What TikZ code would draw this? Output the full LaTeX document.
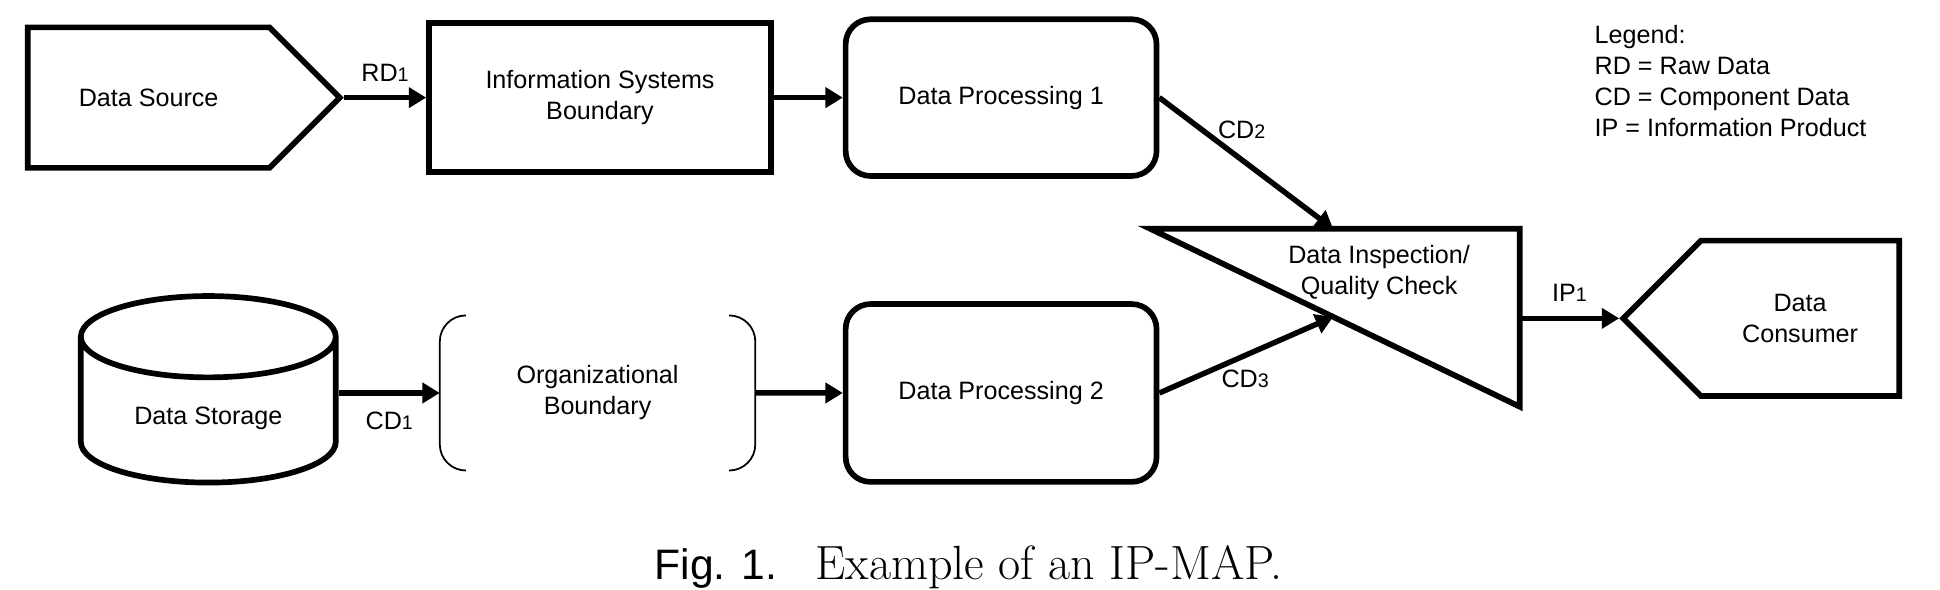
\documentclass[tikz,border=0pt]{standalone}
\usepackage{fontspec}
\setsansfont{Liberation Sans}
\usetikzlibrary{shapes.geometric, shapes.symbols, positioning, calc, arrows.meta}
\tikzstyle{block} = [draw, line width=2.6pt, minimum width=5cm,
        minimum height=2.5cm]
\tikzstyle{proc} = [block, rounded corners=0.4cm]
\tikzstyle{link} = [->, line width=2.5pt]
\tikzset{ends/.style={draw, line width=2.6pt, shape=signal, signal to=#1,
    signal pointer angle=90
    }
}

\begin{document}
\begin{tikzpicture}[>={Triangle[length=0.28cm,width=0.32cm]},
    every node/.style={align=center, font=\sffamily\fontsize{11.5}{14.2}\selectfont}]
    \useasboundingbox (0,0) rectangle (31.2,-9.48);

    \node [ends=east, minimum width=5.02cm, minimum height=2.26cm] (src) at (2.39,-1.57) {Data Source};
    \node [block, right of=src, node distance=7.26cm, minimum width=5.5cm, minimum height=2.4cm] (isb) {Information Systems\\Boundary};
    \node [proc, right of=isb, node distance=6.45cm, minimum height=2.52cm] (dp1) {Data Processing 1};

    \node [draw, line width=2.6pt, cylinder, shape border rotate=90, shape aspect=0.5,
        minimum width=4.1cm, minimum height=3cm] (store) at (3.35,-6.72) {Data Storage};
    \node [minimum width=5.06cm, minimum height=2.48cm] (org) at (9.61,-6.32) {Organizational\\Boundary};
    \node [proc, below of=dp1, node distance=4.75cm, minimum height=2.86cm] (dp2) {Data Processing 2};

    % inspection / quality check
    \coordinate (qa) at (18.5,-3.68);
    \coordinate (qb) at (24.44,-3.68);
    \coordinate (qc) at (24.44,-6.54);
    \draw[line width=2.6pt] (qa) -- (qb) -- (qc) -- cycle;
    \node (check) at (22.18,-4.39) {Data Inspection/\\Quality Check};
    \coordinate (cin) at ($(qa)!0.495!(qb)$);
    \coordinate (hin) at ($(qa)!0.495!(qc)$);

    \node [ends=west, minimum width=4.44cm, minimum height=2.5cm] (dc) at (28.95,-5.12) {Data\\Consumer};

    \node [anchor=north west, inner sep=0pt, align=left] (legend) at (25.64,-0.4)
        {Legend:\\RD = Raw Data\\CD = Component Data\\IP = Information Product};

    % brackets
    \draw[line width=0.8pt, rounded corners=0.42cm] ($(org.north west)+(0.42,0)$) -- (org.north west)
        -- (org.south west) -- ($(org.south west)+(0.42,0)$);
    \draw[line width=0.8pt, rounded corners=0.42cm] ($(org.north east)+(-0.42,0)$) -- (org.north east)
        -- (org.south east) -- ($(org.south east)+(-0.42,0)$);

    \draw[link] (src.east) -- (src.east -| isb.west) node[midway, above=3pt] {RD{\small 1}};
    \draw[link] (isb) -- (dp1);
    \draw[link] (dp1.east) -- (cin) node[pos=0.28, right, yshift=2pt] {CD{\small 2}};
    \draw[link] (store.east |- org.west) -- (org.west) node[midway, below=4pt] {CD{\small 1}};
    \draw[link] (org) -- (dp2);
    \draw[link] (dp2.east) -- (hin) node[pos=0.3, right, yshift=-4pt] {CD{\small 3}};
    \draw[link] (qb |- dc.west) -- (dc.west) node[midway, above=3pt] {IP{\small 1}};

    \node [font=\fontsize{22}{26}\selectfont] (cap) at (15.58,-9.12)
        {{\sffamily\fontsize{19.5}{24}\selectfont Fig. 1.}\hspace{0.62cm}Example of an IP-MAP.};
\end{tikzpicture}
\end{document}
